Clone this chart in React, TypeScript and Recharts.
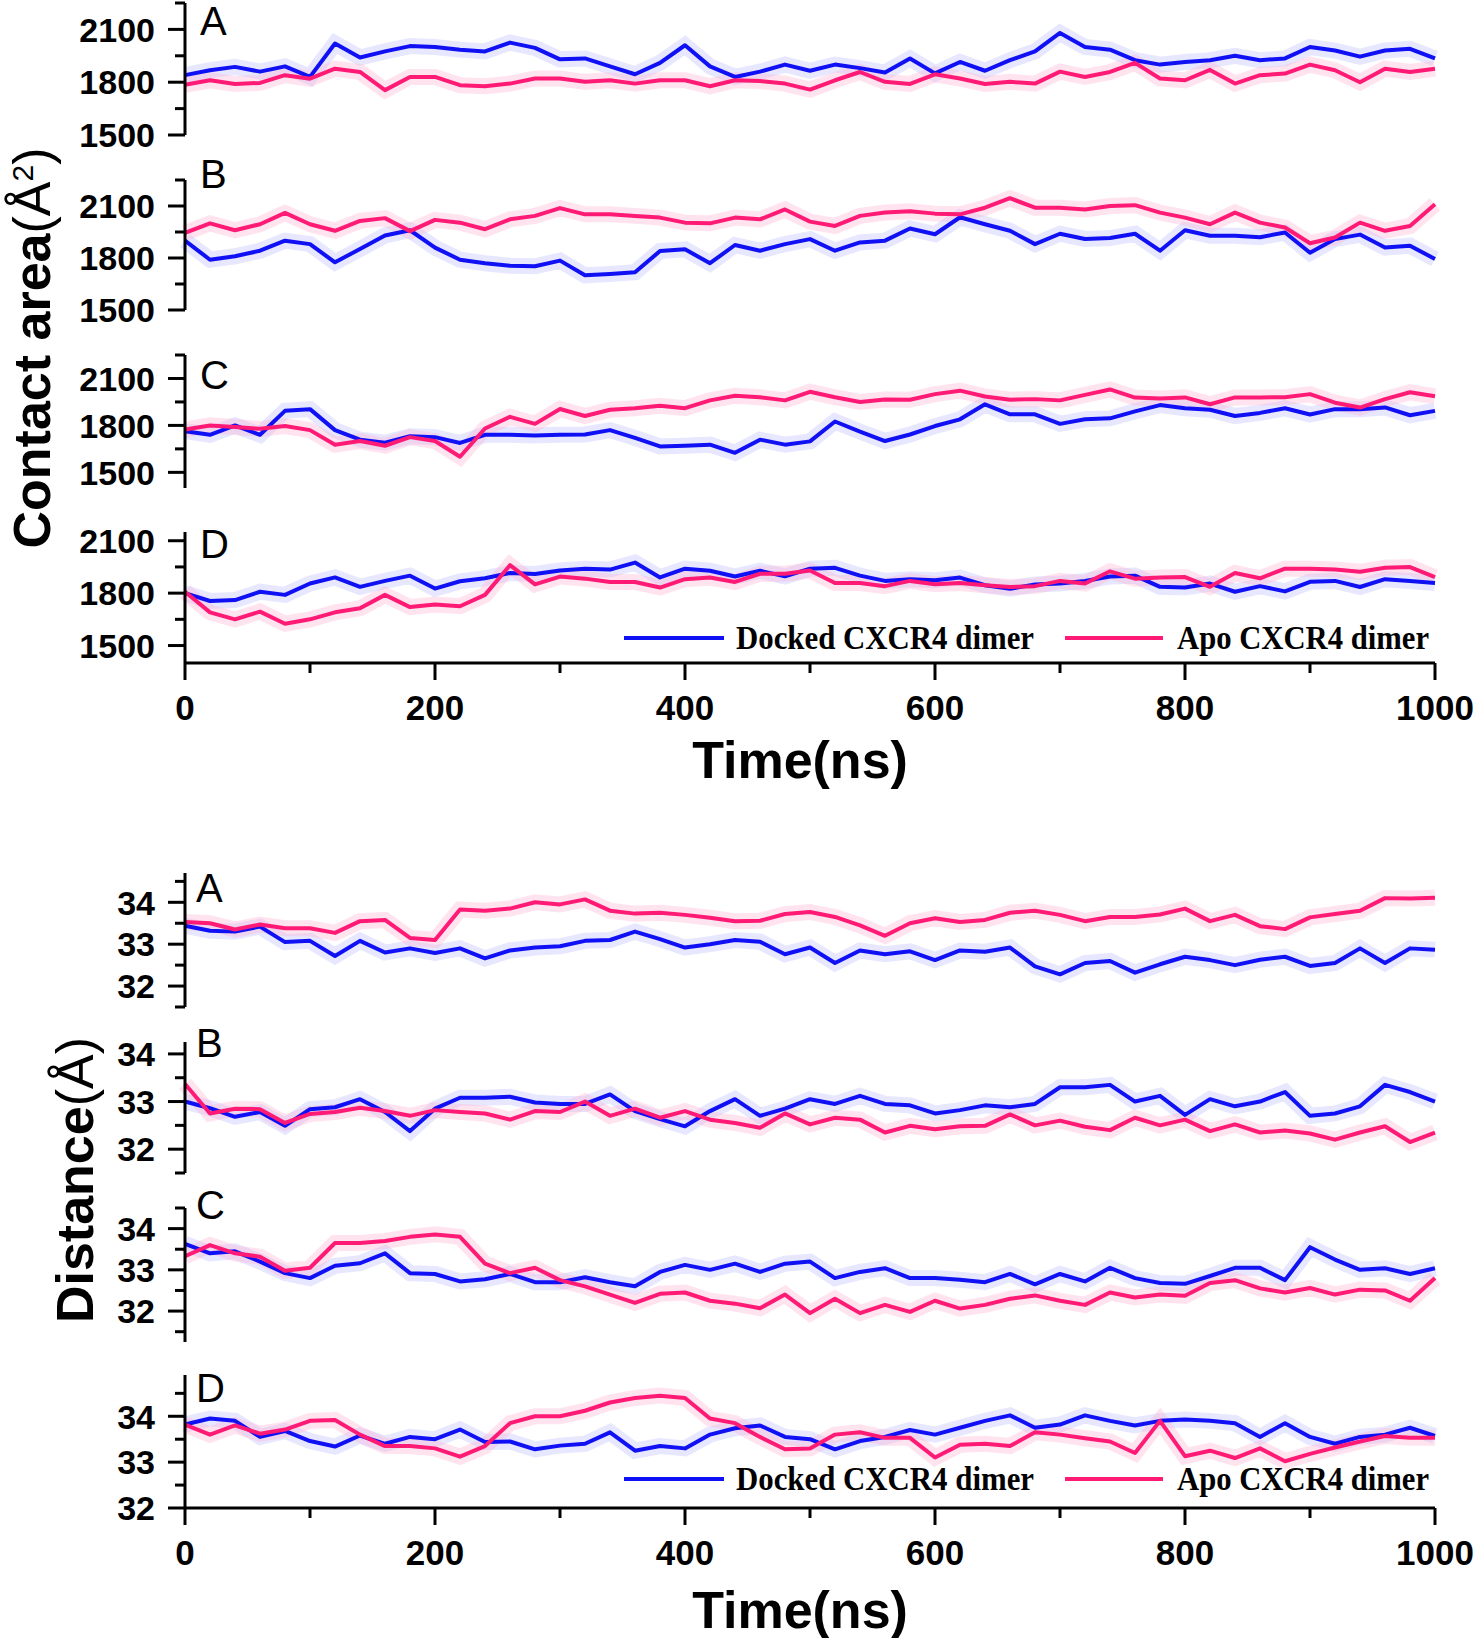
import React from "react";
import { LineChart, Line, XAxis, YAxis, Legend } from "recharts";

// time axis (ns)
const times = [
  0, 20, 40, 60, 80, 100, 120, 140, 160, 180,
  200, 220, 240, 260, 280, 300, 320, 340, 360, 380,
  400, 420, 440, 460, 480, 500, 520, 540, 560, 580,
  600, 620, 640, 660, 680, 700, 720, 740, 760, 780,
  800, 820, 840, 860, 880, 900, 920, 940, 960, 980,
  1000,
];

// contact area (Å²)
const dockedAreaA = [
  1840, 1868, 1887, 1860, 1890, 1830, 2020, 1940, 1975, 2005,
  2000, 1985, 1975, 2025, 1995, 1930, 1935, 1890, 1845, 1910,
  2010, 1890, 1830, 1860, 1900, 1865, 1900, 1880, 1855, 1935,
  1850, 1915, 1865, 1925, 1975, 2080, 2000, 1985, 1925, 1900,
  1915, 1925, 1950, 1925, 1935, 2000, 1980, 1945, 1980, 1990,
  1935,
];
const apoAreaA = [
  1785, 1811, 1790, 1796, 1840, 1820, 1877, 1858, 1755, 1830,
  1830, 1783, 1777, 1792, 1821, 1821, 1802, 1811, 1792, 1811,
  1811, 1777, 1811, 1807, 1792, 1758, 1811, 1858, 1802, 1790,
  1845, 1821, 1790, 1802, 1792, 1860, 1830, 1858, 1910, 1821,
  1811, 1870, 1792, 1840, 1849, 1900, 1868, 1800, 1877, 1858,
  1877,
];
const dockedAreaB = [
  1900, 1790, 1810, 1842, 1900, 1880, 1775, 1852, 1930, 1960,
  1860, 1790, 1770, 1755, 1752, 1785, 1700, 1708, 1718, 1840,
  1850, 1770, 1875, 1842, 1880, 1909, 1842, 1890, 1900, 1970,
  1937, 2035, 1995, 1957, 1880, 1940, 1910, 1915, 1940, 1842,
  1960, 1928, 1928, 1920, 1947, 1830, 1909, 1935, 1860, 1871,
  1794,
];
const apoAreaB = [
  1945, 2000, 1960, 1995, 2060, 1995, 1957, 2014, 2030, 1955,
  2020, 2004, 1966, 2023, 2043, 2088, 2052, 2052, 2043, 2033,
  2004, 2000, 2033, 2023, 2080, 2010, 1985, 2043, 2062, 2070,
  2056, 2052, 2090, 2145, 2090, 2090, 2080, 2100, 2105, 2062,
  2033, 1995, 2062, 2004, 1976, 1885, 1918, 2004, 1957, 1985,
  2110,
];
const dockedAreaC = [
  1763, 1740, 1800, 1740, 1893, 1904, 1770, 1709, 1690, 1731,
  1725, 1688, 1740, 1740, 1735, 1740, 1742, 1770, 1720, 1666,
  1670, 1677, 1625, 1709, 1677, 1698, 1825, 1760, 1700, 1742,
  1796, 1839, 1935, 1871, 1871, 1810, 1839, 1845, 1890, 1930,
  1910, 1900, 1860, 1880, 1910, 1870, 1904, 1904, 1915, 1865,
  1893,
];
const apoAreaC = [
  1774, 1800, 1790, 1778, 1796, 1770, 1677, 1700, 1670, 1725,
  1700, 1600, 1780, 1855, 1810, 1905, 1860, 1900, 1910, 1925,
  1910, 1960, 1990, 1980, 1960, 2015, 1980, 1950, 1965, 1964,
  2000, 2022, 1985, 1964, 1968, 1960, 1995, 2030, 1978, 1972,
  1979, 1935, 1979, 1979, 1980, 2000, 1945, 1914, 1968, 2012,
  1986,
];
const dockedAreaD = [
  1800, 1755, 1760, 1808, 1790, 1855, 1890, 1836, 1870, 1900,
  1826, 1868, 1885, 1915, 1910, 1930, 1940, 1935, 1975, 1890,
  1940, 1928, 1895, 1928, 1896, 1940, 1945, 1900, 1870, 1880,
  1874, 1889, 1845, 1825, 1850, 1855, 1870, 1895, 1900, 1836,
  1832, 1855, 1808, 1840, 1810, 1865, 1870, 1835, 1880, 1870,
  1858,
];
const apoAreaD = [
  1808, 1690, 1650, 1694, 1625, 1650, 1690, 1713, 1790, 1720,
  1735, 1725, 1790, 1960, 1850, 1895, 1883, 1864, 1864, 1832,
  1880, 1889, 1864, 1911, 1911, 1930, 1858, 1858, 1840, 1870,
  1851, 1858, 1845, 1835, 1840, 1870, 1855, 1925, 1883, 1890,
  1892, 1836, 1915, 1885, 1940, 1940, 1935, 1922, 1945, 1949,
  1892,
];

// distance (Å)
const dockedDistA = [
  33.44, 33.32, 33.3, 33.42, 33.05, 33.08, 32.72, 33.08, 32.8, 32.9,
  32.79, 32.9, 32.66, 32.85, 32.92, 32.95, 33.08, 33.1, 33.3, 33.12,
  32.92, 33.0, 33.1, 33.06, 32.76, 32.92, 32.55, 32.85, 32.76, 32.83,
  32.62, 32.85, 32.82, 32.92, 32.47, 32.28, 32.55, 32.6, 32.32, 32.52,
  32.7, 32.62, 32.5, 32.63, 32.7, 32.48, 32.55, 32.9, 32.55, 32.9,
  32.87,
];
const apoDistA = [
  33.53, 33.5, 33.35, 33.47, 33.38, 33.38, 33.27, 33.55, 33.58, 33.15,
  33.1, 33.83, 33.8, 33.85, 34.0, 33.95, 34.07, 33.8, 33.73, 33.75,
  33.7, 33.63, 33.55, 33.56, 33.72, 33.77, 33.65, 33.45, 33.2, 33.5,
  33.62, 33.53, 33.58, 33.75, 33.8, 33.7, 33.55, 33.65, 33.65, 33.71,
  33.85, 33.55, 33.7, 33.43, 33.36, 33.64, 33.72, 33.8, 34.1, 34.09,
  34.11,
];
const dockedDistB = [
  33.0, 32.86, 32.68, 32.78, 32.49, 32.84, 32.88, 33.05, 32.78, 32.38,
  32.85, 33.08, 33.08, 33.1, 32.98, 32.95, 32.95, 33.15, 32.8, 32.63,
  32.48, 32.8, 33.05, 32.7, 32.85, 33.05, 32.95, 33.12, 32.95, 32.92,
  32.75, 32.82, 32.92, 32.88, 32.95, 33.3, 33.3, 33.35, 33.0, 33.12,
  32.72, 33.05, 32.9, 33.0, 33.2, 32.7, 32.75, 32.9, 33.35, 33.2,
  33.0,
];
const apoDistB = [
  33.37, 32.75, 32.85, 32.84, 32.55, 32.74, 32.78, 32.87, 32.8, 32.7,
  32.82, 32.78, 32.75, 32.62, 32.8, 32.78, 33.0, 32.7, 32.85, 32.66,
  32.8, 32.62, 32.55, 32.45, 32.75, 32.52, 32.66, 32.62, 32.35, 32.49,
  32.42, 32.48, 32.49, 32.73, 32.5, 32.6, 32.47, 32.4, 32.66, 32.5,
  32.62, 32.38, 32.52, 32.35, 32.39, 32.33, 32.2, 32.35, 32.48, 32.15,
  32.35,
];
const dockedDistC = [
  33.63, 33.4, 33.45, 33.2, 32.92, 32.8, 33.1, 33.16, 33.4, 32.92,
  32.9, 32.72, 32.77, 32.9, 32.7, 32.7, 32.82, 32.7, 32.6, 32.95,
  33.12, 33.0, 33.15, 32.95, 33.15, 33.2, 32.8, 32.95, 33.04, 32.8,
  32.8, 32.76, 32.7, 32.9, 32.65, 32.9, 32.72, 33.05, 32.8, 32.68,
  32.66, 32.85, 33.05, 33.05, 32.75, 33.55, 33.25, 33.0, 33.04, 32.9,
  33.04,
];
const apoDistC = [
  33.33, 33.6, 33.4, 33.32, 32.98, 33.05, 33.65, 33.65, 33.7, 33.8,
  33.86, 33.8, 33.15, 32.92, 33.05, 32.75, 32.6, 32.4, 32.2, 32.42,
  32.45, 32.25, 32.18, 32.07, 32.4, 31.95, 32.3, 31.95, 32.15, 31.98,
  32.25, 32.06, 32.15, 32.3, 32.38, 32.25, 32.15, 32.45, 32.33, 32.4,
  32.37, 32.68, 32.75, 32.55, 32.45, 32.56, 32.4, 32.52, 32.5, 32.25,
  32.8,
];
const dockedDistD = [
  33.82, 33.95, 33.9, 33.55, 33.68, 33.46, 33.34, 33.58, 33.4, 33.55,
  33.5, 33.71, 33.44, 33.45, 33.28, 33.36, 33.4, 33.65, 33.25, 33.35,
  33.3, 33.6, 33.74, 33.8, 33.55, 33.5, 33.28, 33.46, 33.55, 33.7,
  33.6, 33.75, 33.9, 34.02, 33.75, 33.82, 34.02, 33.9, 33.8, 33.9,
  33.93, 33.9, 33.85, 33.55, 33.85, 33.55, 33.4, 33.55, 33.6, 33.75,
  33.57,
];
const apoDistD = [
  33.82, 33.6, 33.8, 33.62, 33.71, 33.9, 33.92, 33.6, 33.35, 33.35,
  33.3, 33.12, 33.35, 33.85, 34.0, 34.0, 34.12, 34.3, 34.4, 34.45,
  34.4, 33.95, 33.85, 33.55, 33.28, 33.3, 33.6, 33.65, 33.53, 33.53,
  33.1, 33.38, 33.4, 33.35, 33.65, 33.6, 33.52, 33.45, 33.2, 33.9,
  33.13, 33.25, 33.09, 33.3, 33.02, 33.18, 33.32, 33.45, 33.57, 33.53,
  33.53,
];

const areaTicks = [1500, 1650, 1800, 1950, 2100, 2250];
const areaTicksD = [1500, 1650, 1800, 1950, 2100];
const distTicksA = [31.5, 32, 32.5, 33, 33.5, 34, 34.5];
const distTicksB = [31.5, 32, 32.5, 33, 33.5, 34];
const distTicksD = [32, 32.5, 33, 33.5, 34, 34.5];
const timeTicks = [0, 100, 200, 300, 400, 500, 600, 700, 800, 900, 1000];

const seriesNames = ["Docked CXCR4 dimer", "Apo CXCR4 dimer"];

const BLUE = "#1010f5";
const PINK = "#ff1a75";
const SANS = "'Liberation Sans', Arial, sans-serif";
const SERIF = "'Liberation Serif', 'Times New Roman', serif";

const PLOT_LEFT = 185;
const PLOT_RIGHT = 1435;
const WIDTH = 1476;
const PAD_TOP = 30;
const PAD_BOTTOM = 24;
const X_AXIS_H = 130;

const isAreaMajor = (v: number) => v % 300 === 0;
const isDistMajor = (v: number) => Number.isInteger(v);

const upperPanels = [
  { letter: "A", docked: dockedAreaA, apo: apoAreaA, domain: [1500, 2250], ticks: areaTicks, top: 3, bottom: 135, letterY: 35 },
  { letter: "B", docked: dockedAreaB, apo: apoAreaB, domain: [1500, 2250], ticks: areaTicks, top: 180, bottom: 310, letterY: 188 },
  { letter: "C", docked: dockedAreaC, apo: apoAreaC, domain: [1400, 2250], ticks: areaTicks, top: 355, bottom: 488, letterY: 389 },
  { letter: "D", docked: dockedAreaD, apo: apoAreaD, domain: [1400, 2150], ticks: areaTicksD, top: 532, bottom: 663, letterY: 558, legendY: 638, titleDy: 115 },
];

const lowerPanels = [
  { letter: "A", docked: dockedDistA, apo: apoDistA, domain: [31.5, 34.7], ticks: distTicksA, top: 873, bottom: 1007, letterY: 902 },
  { letter: "B", docked: dockedDistB, apo: apoDistB, domain: [31.5, 34.25], ticks: distTicksB, top: 1042, bottom: 1173, letterY: 1057 },
  { letter: "C", docked: dockedDistC, apo: apoDistC, domain: [31.25, 34.5], ticks: distTicksA, top: 1208, bottom: 1342, letterY: 1219 },
  { letter: "D", docked: dockedDistD, apo: apoDistD, domain: [32, 34.9], ticks: distTicksD, top: 1375, bottom: 1508, letterY: 1402, legendY: 1479, titleDy: 120 },
];

const YTick = ({ x, y, payload, isMajor }: any) => {
  const major = isMajor(payload.value);
  return (
    <g>
      <line x1={x} x2={x - (major ? 17 : 10)} y1={y} y2={y} stroke="#000" strokeWidth={3} />
      {major && (
        <text x={x - 30} y={y} dy="0.36em" textAnchor="end" fontFamily={SANS} fontWeight="bold" fontSize={34} fill="#000">
          {payload.value}
        </text>
      )}
    </g>
  );
};

const XTick = ({ x, y, payload }: any) => {
  const major = payload.value % 200 === 0;
  return (
    <g>
      <line x1={x} x2={x} y1={y} y2={y + (major ? 17 : 10)} stroke="#000" strokeWidth={3} />
      {major && (
        <text x={x} y={y + 57} textAnchor="middle" fontFamily={SANS} fontWeight="bold" fontSize={35} fill="#000">
          {payload.value}
        </text>
      )}
    </g>
  );
};

const LegendBox = ({ mid }: { mid: number }) => {
  const textStyle = { fontFamily: SERIF, fontWeight: "bold" as const, fontSize: 33, fill: "#000" };
  return (
    <svg width={WIDTH} height={50} style={{ display: "block", overflow: "visible" }}>
      <line x1={624} x2={724} y1={mid} y2={mid} stroke={BLUE} strokeWidth={4} />
      <text x={736} y={mid + 11} textLength={298} lengthAdjust="spacingAndGlyphs" {...textStyle}>
        {seriesNames[0]}
      </text>
      <line x1={1065} x2={1163} y1={mid} y2={mid} stroke={PINK} strokeWidth={4} />
      <text x={1177} y={mid + 11} textLength={252} lengthAdjust="spacingAndGlyphs" {...textStyle}>
        {seriesNames[1]}
      </text>
    </svg>
  );
};

const Panel = ({ p, isMajor }: any) => {
  const hasX = p.legendY !== undefined;
  const chartTop = p.top - PAD_TOP;
  const height = PAD_TOP + (p.bottom - p.top) + (hasX ? X_AXIS_H : PAD_BOTTOM);
  const data = times.map((t, i) => ({ t, docked: p.docked[i], apo: p.apo[i] }));
  const legendTop = hasX ? p.legendY - chartTop - 25 : 0;

  return (
    <div style={{ position: "absolute", left: 0, top: chartTop }}>
      <LineChart width={WIDTH} height={height} data={data} margin={{ top: PAD_TOP, right: WIDTH - PLOT_RIGHT, bottom: hasX ? 0 : PAD_BOTTOM, left: 0 }}>
        <XAxis
          dataKey="t"
          type="number"
          domain={[0, 1000]}
          ticks={timeTicks}
          interval={0}
          hide={!hasX}
          height={X_AXIS_H}
          axisLine={{ stroke: "#000", strokeWidth: 3 }}
          tickLine={false}
          tickSize={0}
          tickMargin={0}
          tick={<XTick />}
          label={
            hasX
              ? {
                  content: (props: any) => {
                    const vb = props.viewBox || { y: p.bottom - chartTop };
                    return (
                      <text x={800} y={vb.y + p.titleDy} textAnchor="middle" fontFamily={SANS} fontWeight="bold" fontSize={52} fill="#000">
                        Time(ns)
                      </text>
                    );
                  },
                }
              : undefined
          }
        />
        <YAxis
          type="number"
          domain={p.domain}
          ticks={p.ticks}
          interval={0}
          allowDataOverflow
          width={PLOT_LEFT}
          axisLine={{ stroke: "#000", strokeWidth: 3 }}
          tickLine={false}
          tickSize={0}
          tickMargin={0}
          tick={(props: any) => <YTick {...props} isMajor={isMajor} />}
          label={{
            content: () => (
              <text x={isMajor === isAreaMajor ? 200 : 196} y={p.letterY - chartTop} fontFamily={SANS} fontSize={40} fill="#000">
                {p.letter}
              </text>
            ),
          }}
        />
        {hasX && (
          <Legend
            layout="horizontal"
            verticalAlign="middle"
            align="center"
            wrapperStyle={{ position: "absolute", left: 0, top: legendTop, width: WIDTH, height: 50 }}
            content={() => <LegendBox mid={25} />}
          />
        )}
        <Line dataKey="docked" stroke="#b9b9ff" strokeOpacity={0.35} strokeWidth={16} dot={false} activeDot={false} legendType="none" isAnimationActive={false} />
        <Line dataKey="apo" stroke="#ffb3d2" strokeOpacity={0.35} strokeWidth={16} dot={false} activeDot={false} legendType="none" isAnimationActive={false} />
        <Line dataKey="docked" name={seriesNames[0]} stroke={BLUE} strokeWidth={4} strokeLinejoin="round" dot={false} isAnimationActive={false} />
        <Line dataKey="apo" name={seriesNames[1]} stroke={PINK} strokeWidth={4} strokeLinejoin="round" dot={false} isAnimationActive={false} />
      </LineChart>
    </div>
  );
};

export default function App() {
  return (
    <div style={{ position: "absolute", left: 0, top: 0, width: WIDTH, height: 1638, background: "#fff", overflow: "hidden" }}>
      {upperPanels.map((p) => (
        <Panel key={"u" + p.letter} p={p} isMajor={isAreaMajor} />
      ))}
      {lowerPanels.map((p) => (
        <Panel key={"l" + p.letter} p={p} isMajor={isDistMajor} />
      ))}
      <svg width={140} height={1638} style={{ position: "absolute", left: 0, top: 0, pointerEvents: "none" }}>
        <text transform="translate(50,348) rotate(-90)" textAnchor="middle" fontFamily={SANS} fontSize={52} fill="#000">
          <tspan fontWeight="bold">Contact area</tspan>
          <tspan>(Å</tspan>
          <tspan fontSize={30} dy={-17}>2</tspan>
          <tspan dy={17}>)</tspan>
        </text>
        <text transform="translate(93,1180) rotate(-90)" textAnchor="middle" fontFamily={SANS} fontSize={52} fill="#000">
          <tspan fontWeight="bold">Distance</tspan>
          <tspan>(Å)</tspan>
        </text>
      </svg>
    </div>
  );
}
